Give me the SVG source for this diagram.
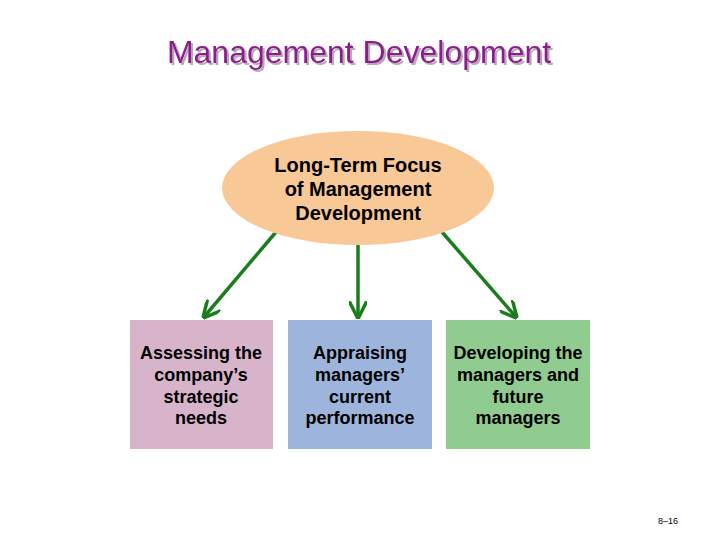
<svg xmlns="http://www.w3.org/2000/svg" width="720" height="540" viewBox="0 0 720 540">
<defs>
<style>
.t{font-family:"Liberation Sans",Arial,sans-serif;font-weight:bold;text-anchor:middle;fill:#000}
.bx{font-size:18px}
.el{font-size:20px}
.conn{stroke:#1B7D1B;stroke-width:3.5;fill:none;marker-end:url(#ah)}
</style>
<filter id="sh" x="-10%" y="-30%" width="120%" height="160%">
<feDropShadow dx="2" dy="2" stdDeviation="0.6" flood-color="#b8a8b8" flood-opacity="1"/>
</filter>
<marker id="ah" viewBox="0 0 10 10" refX="9" refY="5" markerWidth="5" markerHeight="5" orient="auto" markerUnits="strokeWidth">
<path d="M0,0 L10,5 L0,10" fill="none" stroke="#1B7D1B" stroke-width="2"/>
</marker>
</defs>
<rect width="720" height="540" fill="#fff"/>
<g id="title">
<text x="359" y="63" font-family="Liberation Sans,Arial,sans-serif" font-size="32" text-anchor="middle" fill="#8E1A8E" filter="url(#sh)">Management Development</text>
</g>
<g id="connectors">
<line class="conn" x1="276" y1="232" x2="204" y2="317"/>
<line class="conn" x1="358" y1="245" x2="358" y2="317"/>
<line class="conn" x1="442" y1="232" x2="516" y2="317"/>
</g>
<g id="focus">
<ellipse cx="358" cy="188" rx="136" ry="57" fill="#F8C896"/>
<text class="t el" x="358" y="172">Long-Term Focus</text>
<text class="t el" x="358" y="196">of Management</text>
<text class="t el" x="358" y="220">Development</text>
</g>
<g id="assess">
<rect x="130" y="320" width="143" height="129" fill="#D8B4CB"/>
<text class="t bx" x="201" y="359">Assessing the</text>
<text class="t bx" x="201" y="381">company’s</text>
<text class="t bx" x="201" y="403">strategic</text>
<text class="t bx" x="201" y="424">needs</text>
</g>
<g id="appraise">
<rect x="288" y="320" width="144" height="129" fill="#9DB5DC"/>
<text class="t bx" x="360" y="359">Appraising</text>
<text class="t bx" x="360" y="381">managers’</text>
<text class="t bx" x="360" y="403">current</text>
<text class="t bx" x="360" y="424">performance</text>
</g>
<g id="develop">
<rect x="446" y="320" width="144" height="129" fill="#90CB90"/>
<text class="t bx" x="518" y="359">Developing the</text>
<text class="t bx" x="518" y="381">managers and</text>
<text class="t bx" x="518" y="403">future</text>
<text class="t bx" x="518" y="424">managers</text>
</g>
<text x="668" y="524" font-family="Liberation Sans,Arial,sans-serif" font-size="9" text-anchor="middle" fill="#000">8–16</text>
</svg>
